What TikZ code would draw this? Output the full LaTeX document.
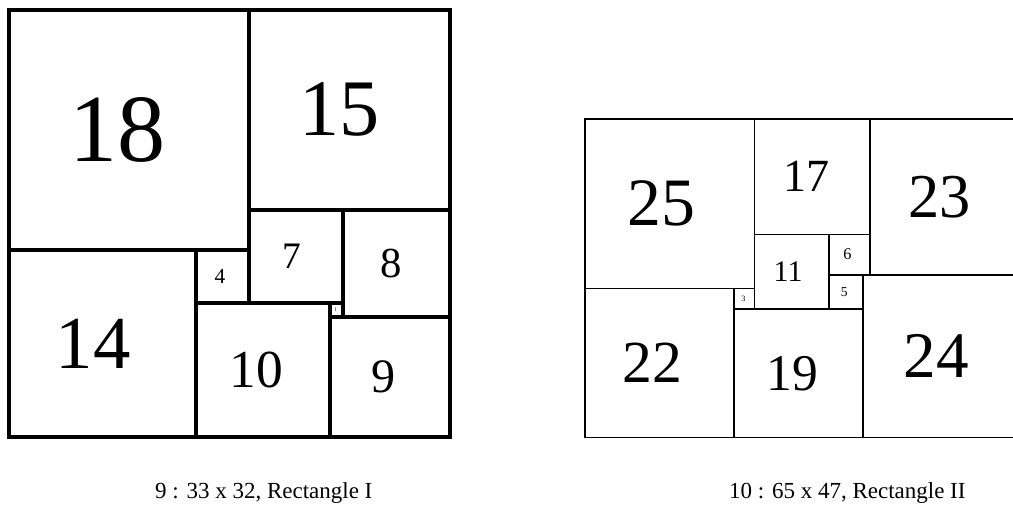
\documentclass[tikz,border=0pt]{standalone}
\usepackage{fontspec}
\setmainfont{Liberation Serif}
\newcommand{\sqbox}[5]{%
  \pgfmathsetmacro\sqfs{0.4*#4*#1}%
  \pgfmathsetmacro\sqdx{-0.05*#4*#1}%
  \draw[line width=#5] (#2,#3) rectangle ++(#4,#4);
  \node[inner sep=0pt,xshift=\sqdx pt,font=\fontsize{\sqfs}{\sqfs}\selectfont] (s#4) at ({#2+#4/2},{#3+#4/2}) {#4};
}
\tikzset{caption/.style={anchor=base west,inner sep=0pt,font=\fontsize{23}{23}\selectfont}}
\begin{document}
\begin{tikzpicture}[x=1pt,y=-1pt]
\useasboundingbox (0,0) rectangle (1013,504);
\clip (0,0) rectangle (1013,504);
% Rectangle I : 33 x 32
\begin{scope}[shift={(9,9.5)},x=13.36pt,y=-13.36pt]
  \def\s{13.36}\def\lw{4pt}
  \sqbox{\s}{0}{0}{18}{\lw}
  \sqbox{\s}{18}{0}{15}{\lw}
  \sqbox{\s}{0}{18}{14}{\lw}
  \sqbox{\s}{14}{18}{4}{\lw}
  \sqbox{\s}{18}{15}{7}{\lw}
  \sqbox{\s}{25}{15}{8}{\lw}
  \sqbox{\s}{14}{22}{10}{\lw}
  \sqbox{\s}{24}{22}{1}{\lw}
  \sqbox{\s}{24}{23}{9}{\lw}
\end{scope}
% Rectangle II : 65 x 47
\begin{scope}[shift={(585,119)},x=6.78pt,y=-6.78pt]
  \def\s{6.78}\def\lw{1.5pt}
  \sqbox{\s}{0}{0}{25}{\lw}
  \sqbox{\s}{25}{0}{17}{\lw}
  \sqbox{\s}{42}{0}{23}{\lw}
  \sqbox{\s}{0}{25}{22}{\lw}
  \sqbox{\s}{22}{25}{3}{\lw}
  \sqbox{\s}{25}{17}{11}{\lw}
  \sqbox{\s}{36}{17}{6}{\lw}
  \sqbox{\s}{36}{23}{5}{\lw}
  \sqbox{\s}{22}{28}{19}{\lw}
  \sqbox{\s}{41}{23}{24}{\lw}
\end{scope}
\node[caption] (capI) at (155,498.5) {9 : 33 x 32, Rectangle I};
\node[caption] (capII) at (729,498.5) {10 : 65 x 47, Rectangle II};
\end{tikzpicture}
\end{document}
